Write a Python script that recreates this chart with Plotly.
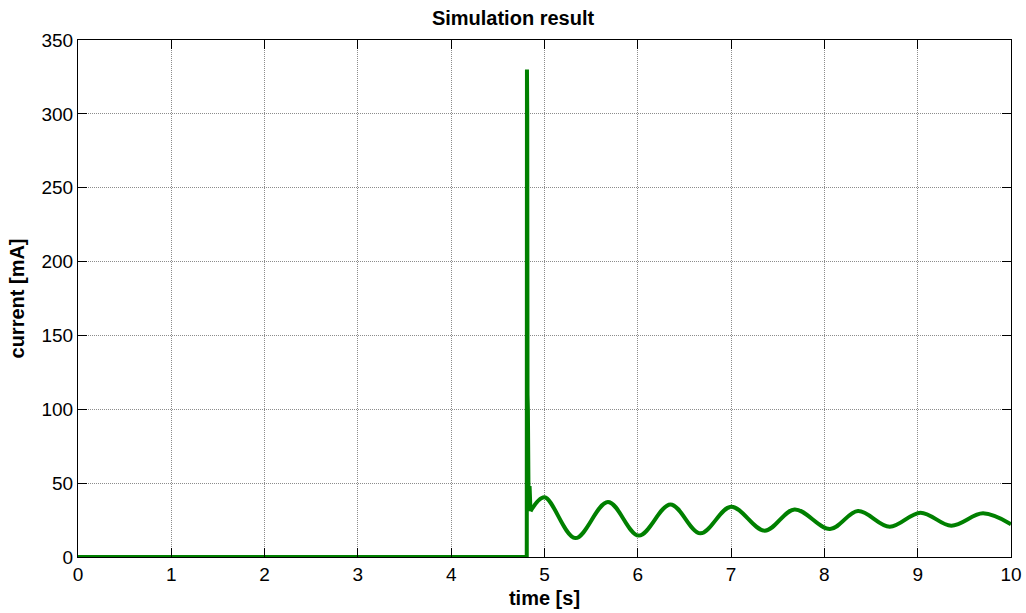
import plotly.graph_objects as go

# Startup segment (step and spike)
t_start = [0.0, 4.805, 4.81, 4.812, 4.815, 4.818, 4.822, 4.83, 4.84, 4.85]
i_start = [0.0, 0.0, 0.0, 330.0, 300.0, 110.0, 100.0, 31.0, 48.0, 31.0]

# Damped oscillation after the spike (extrema)
t_osc = [4.85, 5.00, 5.33, 5.68, 6.01, 6.35, 6.67, 7.00, 7.36, 7.68, 8.06,
         8.36, 8.70, 9.03, 9.36, 9.70, 10.0]
i_osc = [31.0, 40.5, 12.8, 37.3, 14.5, 35.6, 16.0, 34.0, 17.8, 32.2, 19.0,
         31.1, 20.5, 30.0, 21.2, 29.6, 22.2]

x_ticks = [0, 1, 2, 3, 4, 5, 6, 7, 8, 9, 10]
y_ticks = [0, 50, 100, 150, 200, 250, 300, 350]

green = "#008000"
fig = go.Figure()
fig.add_trace(go.Scatter(x=t_start, y=i_start, mode="lines",
                         line=dict(color=green, width=4), showlegend=False))
fig.add_trace(go.Scatter(x=t_osc, y=i_osc, mode="lines",
                         line=dict(color=green, width=4, shape="spline", smoothing=1.0),
                         showlegend=False))

font_family = "Liberation Sans, Arial, sans-serif"
axis_common = dict(
    showline=True, linecolor="black", linewidth=1, mirror="allticks",
    ticks="inside", ticklen=9, tickwidth=1, tickcolor="black",
    showgrid=True, gridcolor="rgba(0,0,0,0.45)", griddash="1px,1px", gridwidth=1,
    zeroline=False, automargin=False,
    tickfont=dict(family=font_family, size=19, color="black"),
)

fig.update_layout(
    width=1026, height=613,
    margin=dict(l=78, r=15, t=40, b=56),
    paper_bgcolor="white", plot_bgcolor="white",
    title=dict(text="<b>Simulation result</b>", x=0.5, xanchor="center",
               y=1 - 18 / 613, yanchor="middle",
               font=dict(family=font_family, size=20, color="black")),
    xaxis=dict(range=[0, 10], tickvals=x_ticks, ticktext=[str(v) for v in x_ticks],
               title=dict(text="<b>time [s]</b>", standoff=7,
                          font=dict(family=font_family, size=20, color="black")),
               **axis_common),
    yaxis=dict(range=[0, 350], tickvals=y_ticks, ticktext=[str(v) for v in y_ticks],
               title=dict(text="<b>current [mA]</b>", standoff=11,
                          font=dict(family=font_family, size=20, color="black")),
               **axis_common),
)

fig.write_html("out.html")
